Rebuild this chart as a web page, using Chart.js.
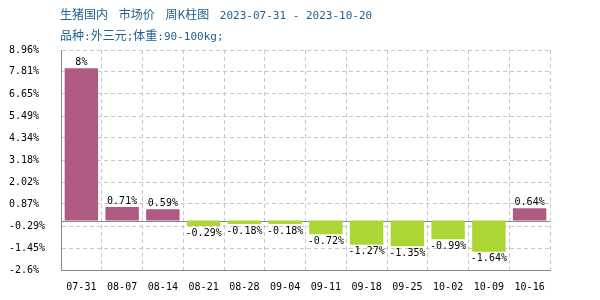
<!DOCTYPE html>
<html lang="zh">
<head>
    <meta charset="UTF-8">
    <title>生猪国内 市场价 周K柱图</title>
    <script src="https://cdn.jsdelivr.net/npm/chart.js"></script>
</head>
<body>
    <style>
        body {
            margin: 0;
            background: white;
        }
        #wrap {
            position: relative;
            width: 600px;
            height: 300px;
        }
        .head {
            position: absolute;
            left: 60px;
            font-family: "Noto Sans CJK SC", sans-serif;
            font-size: 12px;
            color: #1d5f8e;
            white-space: pre;
            line-height: 14px;
            word-spacing: 8px;
        }
        .mono {
            font-family: "DejaVu Sans Mono", monospace;
            font-size: 11px;
            word-spacing: 0;
        }
        canvas {
            position: absolute;
            left: 0;
            top: 0;
        }
    </style>

    <div id="wrap">
        <canvas id="weekBar" width="600" height="300"></canvas>
        <div class="head" style="top:7px">生猪国内 市场价 周K柱图 <span class="mono">2023-07-31 - 2023-10-20</span></div>
        <div class="head" style="top:28px">品种<span class="mono">:</span>外三元<span class="mono">;</span>体重<span class="mono">:90-100kg;</span></div>
    </div>

    <script>
        // weekly change, percent
        const weeks = ["07-31", "08-07", "08-14", "08-21", "08-28", "09-04", "09-11", "09-18", "09-25", "10-02", "10-09", "10-16"];
        const changes = [8, 0.71, 0.59, -0.29, -0.18, -0.18, -0.72, -1.27, -1.35, -0.99, -1.64, 0.64];
        const yTicks = [8.96, 7.81, 6.65, 5.49, 4.34, 3.18, 2.02, 0.87, -0.29, -1.45, -2.6];

        const upColor = "#ae5a82";
        const downColor = "#acd633";
        const monoFont = { family: "DejaVu Sans Mono", size: 10 };

        // value text above / below every bar
        const valueLabels = {
            id: "valueLabels",
            afterDatasetsDraw(chart) {
                const ctx = chart.ctx;
                const meta = chart.getDatasetMeta(0);
                ctx.save();
                ctx.font = "10px 'DejaVu Sans Mono'";
                ctx.fillStyle = "#000";
                ctx.textAlign = "center";
                meta.data.forEach((bar, i) => {
                    const v = changes[i];
                    if (v >= 0) {
                        ctx.textBaseline = "bottom";
                        ctx.fillText(v + "%", bar.x, bar.y - 1);
                    } else {
                        ctx.textBaseline = "top";
                        ctx.fillText(v + "%", bar.x, bar.y + 2);
                    }
                });
                ctx.restore();
            }
        };

        // solid axis lines: zero, left and bottom
        const axisLines = {
            id: "axisLines",
            beforeDatasetsDraw(chart) {
                const ctx = chart.ctx;
                const area = chart.chartArea;
                const y0 = Math.round(chart.scales.y.getPixelForValue(0)) + 0.5;
                const left = Math.round(area.left) + 0.5;
                const bottom = Math.round(area.bottom) + 0.5;
                ctx.save();
                ctx.strokeStyle = "#888";
                ctx.lineWidth = 1;
                ctx.beginPath();
                ctx.moveTo(area.left, y0);
                ctx.lineTo(area.right, y0);
                ctx.moveTo(left, area.top);
                ctx.lineTo(left, bottom);
                ctx.lineTo(area.right, bottom);
                ctx.stroke();
                ctx.restore();
            }
        };

        const barCtx = document.getElementById("weekBar").getContext("2d");
        const weekBar = new Chart(barCtx, {
            type: "bar",
            data: {
                labels: weeks,
                datasets: [{
                    data: changes,
                    backgroundColor: changes.map(v => v >= 0 ? upColor : downColor),
                    barPercentage: 0.82,
                    categoryPercentage: 1
                }]
            },
            options: {
                responsive: false,
                animation: false,
                layout: {
                    padding: { top: 50, right: 50, left: 9, bottom: 0 }
                },
                plugins: {
                    legend: { display: false },
                    tooltip: { enabled: false }
                },
                scales: {
                    x: {
                        afterFit: scale => {
                            scale.height = 30;
                        },
                        grid: {
                            color: "#c8c8c8",
                            drawTicks: false,
                            offset: true
                        },
                        border: { color: "#888", dash: [4, 3] },
                        ticks: {
                            color: "#000",
                            font: monoFont,
                            padding: 11,
                            maxRotation: 0,
                            autoSkip: false
                        }
                    },
                    y: {
                        min: -2.6,
                        max: 8.96,
                        afterBuildTicks: scale => {
                            scale.ticks = yTicks.map(v => ({ value: v }));
                        },
                        afterFit: scale => {
                            scale.width = 52;
                        },
                        grid: {
                            color: "#c8c8c8",
                            drawTicks: false
                        },
                        border: { color: "#888", dash: [4, 3] },
                        ticks: {
                            color: "#000",
                            font: monoFont,
                            crossAlign: "far",
                            callback: v => v + "%"
                        }
                    }
                }
            },
            plugins: [axisLines, valueLabels]
        });
    </script>
</body>
</html>
